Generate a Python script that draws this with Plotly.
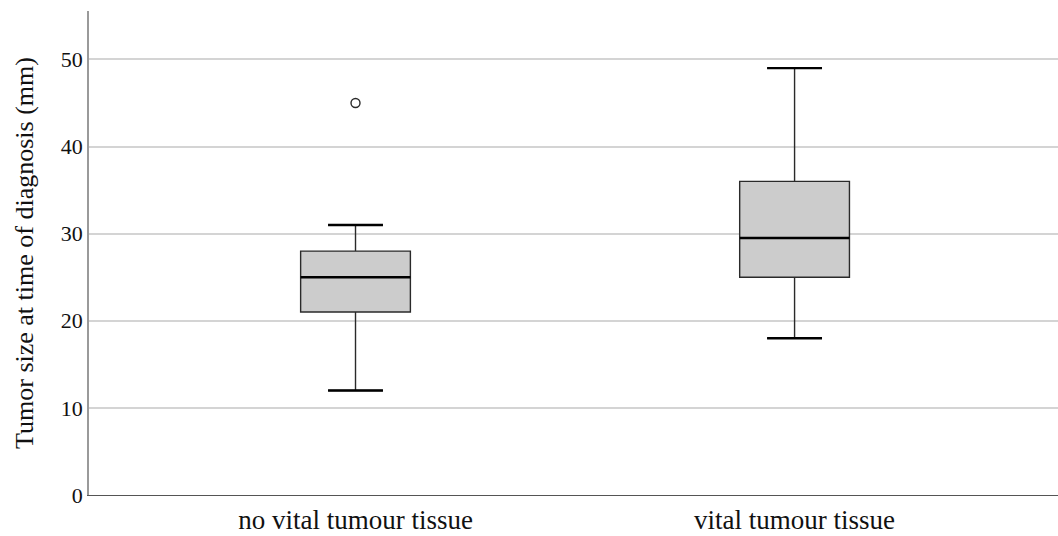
import plotly.graph_objects as go

categories = ["no vital tumour tissue", "vital tumour tissue"]
q1 = [21, 25]
median = [25, 29.5]
q3 = [28, 36]
lower_whisker = [12, 18]
upper_whisker = [31, 49]
outlier_cat = ["no vital tumour tissue"]
outlier_val = [45]

yticks = [0, 10, 20, 30, 40, 50]

BOX_W = 0.25
CAP_W = 0.5

fig = go.Figure()
fig.add_trace(go.Box(
    x=categories, q1=q1, median=median, q3=q3,
    lowerfence=lower_whisker, upperfence=upper_whisker,
    fillcolor="#cccccc", line=dict(color="#2a2a2a", width=1.4),
    width=BOX_W, whiskerwidth=CAP_W, boxpoints=False, showlegend=False,
    hoverinfo="skip",
))

# emphasised median lines and whisker caps
for i, c in enumerate(categories):
    half = BOX_W / 2
    capw = BOX_W * CAP_W / 2
    fig.add_shape(type="line", xref="x", yref="y",
                  x0=i - half, x1=i + half, y0=median[i], y1=median[i],
                  line=dict(color="#000000", width=2.4))
    for v in (lower_whisker[i], upper_whisker[i]):
        fig.add_shape(type="line", xref="x", yref="y",
                      x0=i - capw, x1=i + capw, y0=v, y1=v,
                      line=dict(color="#000000", width=2.4))

fig.add_trace(go.Scatter(
    x=outlier_cat, y=outlier_val, mode="markers",
    marker=dict(symbol="circle-open", size=9, color="#2a2a2a", line=dict(width=1.4)),
    showlegend=False, hoverinfo="skip",
))

font = "Liberation Serif, Times New Roman, serif"
fig.update_layout(
    width=1058, height=536,
    margin=dict(l=89, r=0, t=11, b=41),
    paper_bgcolor="white", plot_bgcolor="white",
    font=dict(family=font, color="#111111", size=22),
)
fig.update_xaxes(
    type="category", categoryorder="array", categoryarray=categories,
    range=[-0.607, 1.6], showgrid=False, showline=True,
    linecolor="#555555", linewidth=1.2, ticks="", tickfont=dict(size=27),
    zeroline=False,
)
fig.update_yaxes(
    range=[0, 55.56], tickvals=yticks, showgrid=True, gridcolor="#d4d4d4",
    gridwidth=1.5, showline=True, linecolor="#9a9a9a", linewidth=1.5,
    ticks="", zeroline=False, tickfont=dict(size=22),
    title=dict(text="Tumor size at time of diagnosis (mm)", font=dict(size=26), standoff=20),
)

fig.write_html("out.html")
